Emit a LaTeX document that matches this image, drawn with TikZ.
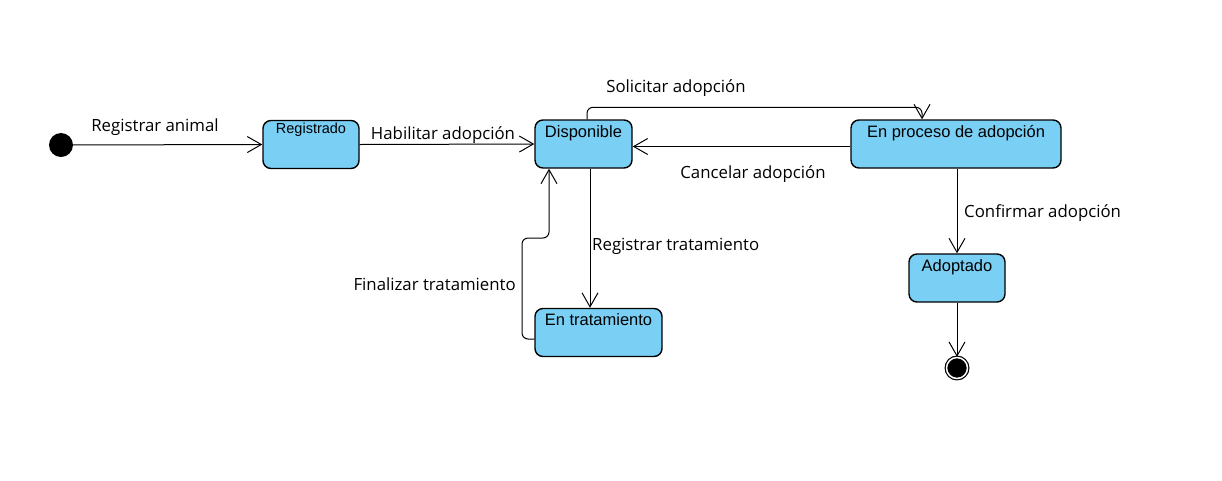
\documentclass[tikz,border=0pt]{standalone}
\usepackage{fontspec}
\setmainfont{Open Sans}
\newfontfamily\estadofont{Liberation Sans}
\usepackage{tikz}
\usetikzlibrary{arrows.meta}
\definecolor{celeste}{RGB}{122,207,245}

\begin{document}
\begin{tikzpicture}[x=1pt,y=-1pt,
	estado/.style={draw,line width=1.4pt,fill=celeste,rounded corners=8pt,minimum height=48pt,
		inner ysep=4pt,text height=13pt,text depth=27pt,font=\estadofont\fontsize{16.5}{18}\selectfont},
	inicio/.style={circle,fill=black,minimum size=24pt,inner sep=0pt},
	fin/.style={circle,draw,line width=1.2pt,fill=black,minimum size=21pt,inner sep=0pt,double=white,double distance=1.5pt},
	flecha/.style={line width=1pt,-{Straight Barb[length=14pt,width=16pt,line width=1pt]}},
	etiqueta/.style={font=\fontsize{16.8}{18}\selectfont,inner sep=0pt}]
	\useasboundingbox (0,0) rectangle (1222,480);
	% estados
	\node[inicio] (ini) at (61,145) {};
	\node[estado,minimum width=96pt,text height=9pt,text depth=31pt,font=\estadofont\fontsize{14.5}{16}\selectfont] (reg) at (311,144.5) {Registrado};
	\node[estado,minimum width=97pt] (disp) at (583.5,144) {Disponible};
	\node[estado,minimum width=210pt] (proc) at (956,144) {En proceso de adopción};
	\node[estado,minimum width=127pt] (trat) at (598.5,332.5) {En tratamiento};
	\node[estado,minimum width=96pt] (adop) at (957,278) {Adoptado};
	\node[fin] (fin) at (957,368) {};
	% transiciones
	\draw[flecha] (ini) -- (reg.west);
	\draw[flecha] (reg.east) -- (disp.west);
	\draw[flecha,rounded corners=6pt] ([xshift=3.5pt]disp.north) -- ++(0,-12) -| ([xshift=-34pt]proc.north);
	\draw[flecha] ([yshift=-2.5pt]proc.west) -- ([yshift=-2.5pt]disp.east);
	\draw[flecha] ([xshift=6.5pt]disp.south) -- ([xshift=-8.5pt]trat.north);
	\draw[flecha,rounded corners=6pt] ([yshift=-6.5pt]trat.west) -| (522,238) -| ([xshift=-34.5pt]disp.south);
	\draw[flecha] ([xshift=1pt]proc.south) -- (adop.north);
	\draw[flecha] (adop.south) -- (fin.north);
	% etiquetas
	\node[etiqueta] (l1) at (155,127) {Registrar animal};
	\node[etiqueta] (l2) at (443,135) {Habilitar adopción};
	\node[etiqueta] (l3) at (676,88) {Solicitar adopción};
	\node[etiqueta] (l4) at (753,174) {Cancelar adopción};
	\node[etiqueta,anchor=west] (l5) at (592,246) {Registrar tratamiento};
	\node[etiqueta,anchor=east] (l6) at (516,284) {Finalizar tratamiento};
	\node[etiqueta,anchor=west] (l7) at (964,213) {Confirmar adopción};
\end{tikzpicture}
\end{document}
